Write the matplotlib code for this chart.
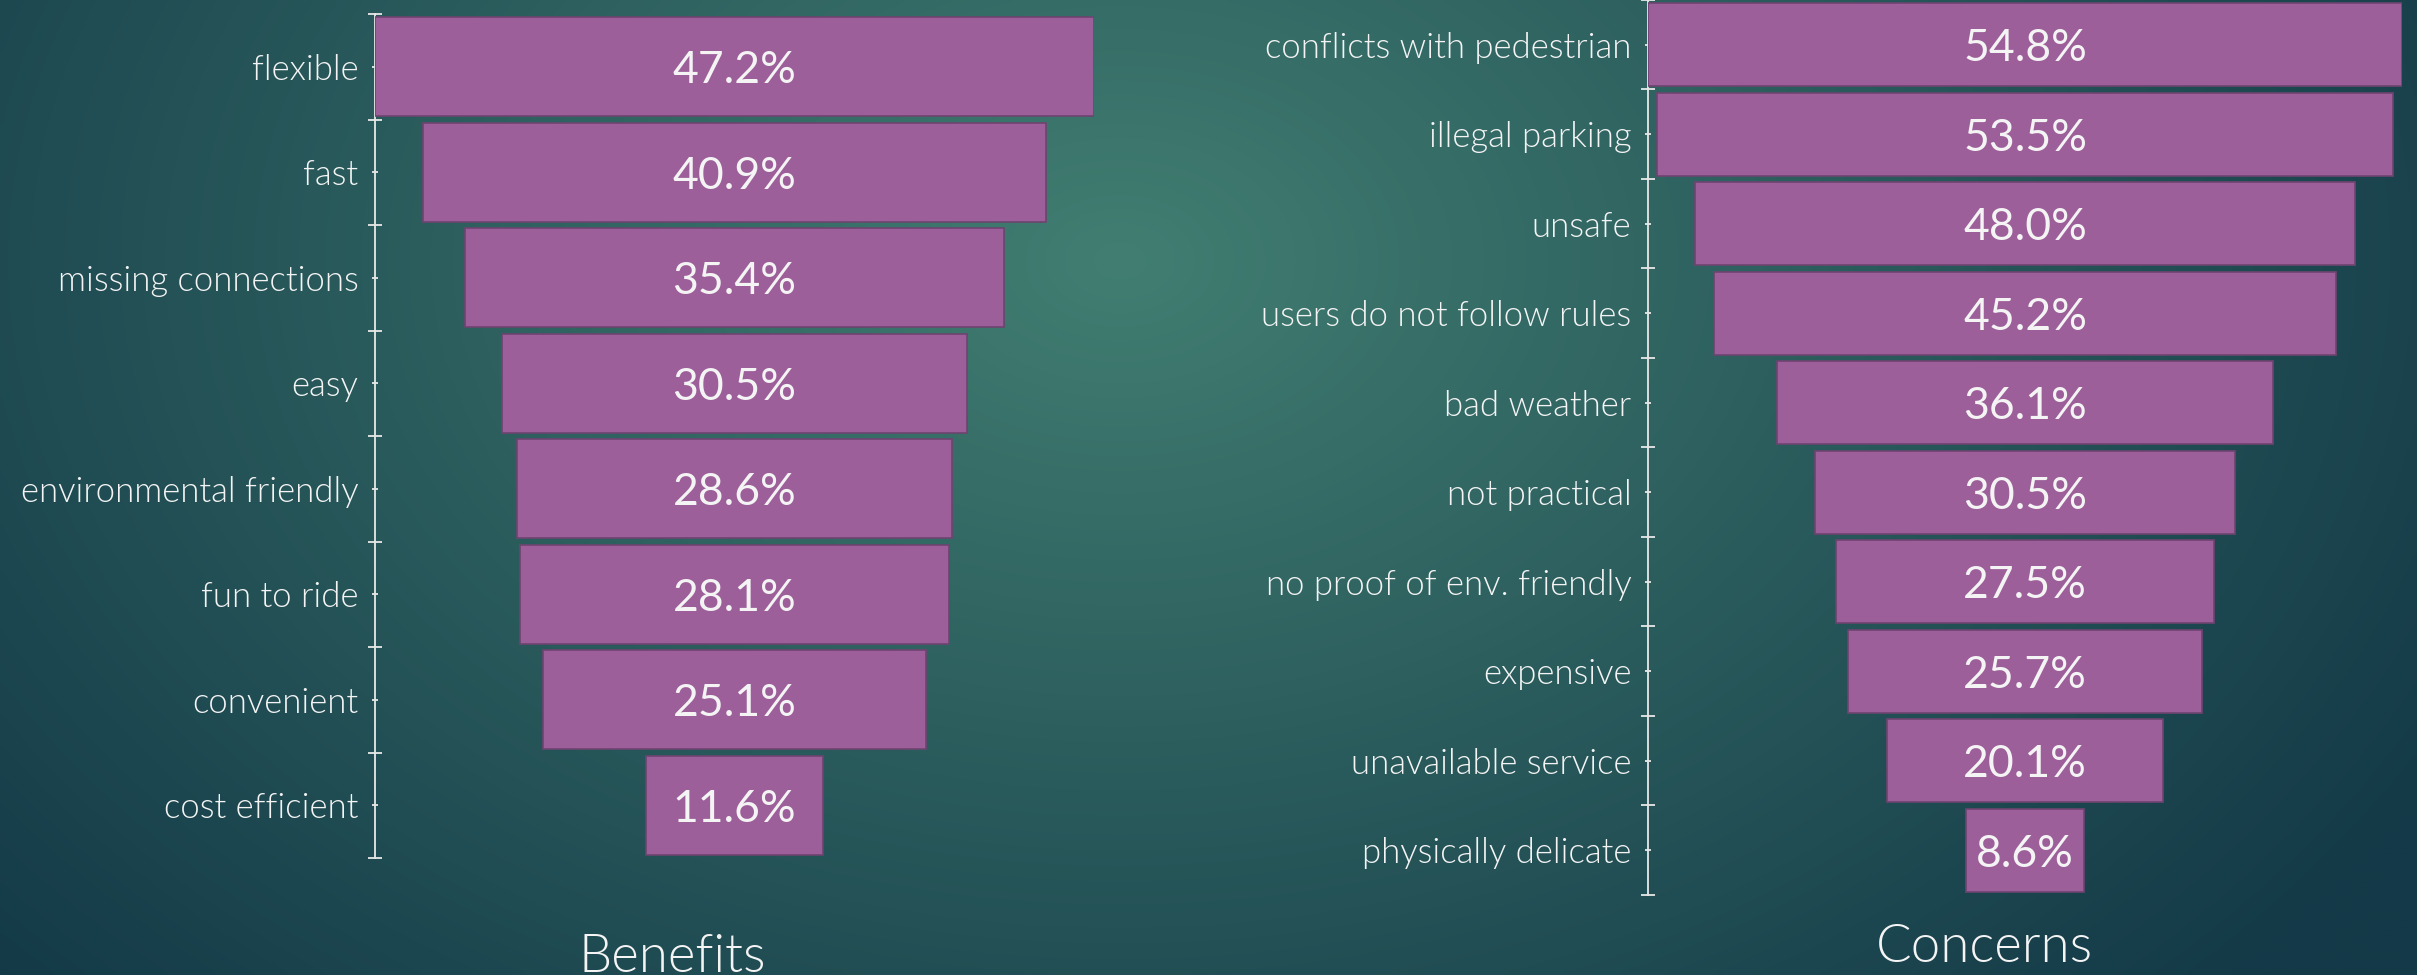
import numpy as np
import matplotlib
matplotlib.use("Agg")
import matplotlib.pyplot as plt

# ---------------- data ----------------
benefit_labels = ["flexible", "fast", "missing connections", "easy",
                  "environmental friendly", "fun to ride", "convenient", "cost efficient"]
benefit_values = [47.2, 40.9, 35.4, 30.5, 28.6, 28.1, 25.1, 11.6]

concern_labels = ["conflicts with pedestrian", "illegal parking", "unsafe",
                  "users do not follow rules", "bad weather", "not practical",
                  "no proof of env. friendly", "expensive", "unavailable service",
                  "physically delicate"]
concern_values = [54.8, 53.5, 48.0, 45.2, 36.1, 30.5, 27.5, 25.7, 20.1, 8.6]

titles = ["Benefits", "Concerns"]

# ---------------- style ----------------
W, H = 2417, 975
DPI = 100
BAR_COLOR = "#9d5f9a"
BAR_EDGE = "#6e4470"
TEXT_COLOR = "#f4f4f4"
LABEL_FONT = ["Lato", "DejaVu Sans"]

fig = plt.figure(figsize=(W / DPI, H / DPI), dpi=DPI)

# background radial gradient
bg = fig.add_axes([0, 0, 1, 1], zorder=-10)
xx, yy = np.meshgrid(np.linspace(0, W, 600), np.linspace(0, H, 250))
cx, cy = 1120, 260
r = np.sqrt(((xx - cx) / 1500) ** 2 + ((yy - cy) / 1050) ** 2)
r = np.clip(r, 0, 1)
c_in = np.array([66, 127, 114]) / 255
c_out = np.array([20, 58, 72]) / 255
t = r[..., None] ** 0.95
img = c_in * (1 - t) + c_out * t
bg.imshow(img, extent=[0, W, H, 0], aspect="auto", interpolation="bicubic")
bg.set_xlim(0, W)
bg.set_ylim(H, 0)
bg.axis("off")


def px_axes(x0, x1, ytop, ybot):
    return fig.add_axes([x0 / W, 1 - ybot / H, (x1 - x0) / W, (ybot - ytop) / H])


def funnel(ax, labels, values, bar_h):
    n = len(values)
    vmax = max(values)
    vals = np.array(values)
    ypos = np.arange(n)
    ax.barh(ypos, vals, left=(vmax - vals) / 2, height=bar_h,
            color=BAR_COLOR, edgecolor=BAR_EDGE, linewidth=1.2, zorder=3)
    for y, v in zip(ypos, vals):
        ax.text(vmax / 2, y, f"{v:.1f}%", ha="center", va="center_baseline",
                color=TEXT_COLOR, fontsize=32, family=LABEL_FONT,
                fontweight="normal", zorder=4)
    ax.set_xlim(0, vmax)
    ax.set_ylim(n - 0.5, -0.5)
    ax.set_facecolor("none")
    for s in ["top", "right", "bottom"]:
        ax.spines[s].set_visible(False)
    ax.spines["left"].set_color("#e8e8e8")
    ax.spines["left"].set_linewidth(1.3)
    ax.set_xticks([])
    ax.set_yticks(np.arange(n + 1) - 0.5)
    ax.set_yticklabels([])
    ax.set_yticks(ypos, minor=True)
    ax.set_yticklabels(labels, minor=True, color=TEXT_COLOR,
                       fontsize=25, family=LABEL_FONT, fontweight=300)
    ax.tick_params(axis="y", which="major", direction="inout", length=10,
                   width=1.3, color="#e8e8e8")
    ax.tick_params(axis="y", which="minor", direction="inout", length=4,
                   width=1.3, color="#e8e8e8", pad=10)


ax1 = px_axes(375, 1094, 14, 858)
funnel(ax1, benefit_labels, benefit_values, 0.94)
ax2 = px_axes(1648, 2402, 0, 895)
funnel(ax2, concern_labels, concern_values, 0.93)

fig.text(672 / W, 1 - 972 / H, titles[0], ha="center", va="baseline",
         color=TEXT_COLOR, fontsize=38, family=LABEL_FONT, fontweight=300)
fig.text(1984 / W, 1 - 962 / H, titles[1], ha="center", va="baseline",
         color=TEXT_COLOR, fontsize=38, family=LABEL_FONT, fontweight=300)

fig.savefig("out.png", dpi=DPI)
